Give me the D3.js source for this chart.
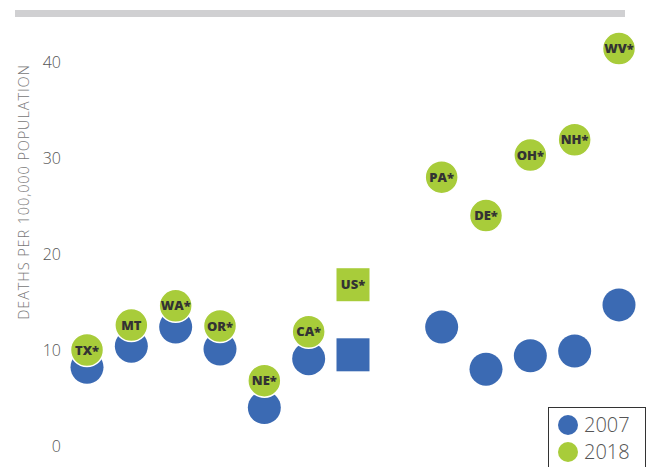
<!DOCTYPE html>
<html>
<head>
<meta charset="utf-8">
<script src="https://cdn.jsdelivr.net/npm/d3@7"></script>
<style>
  body { margin: 0; background: #fff; }
  svg { display: block; }
</style>
</head>
<body>
<div id="chart"></div>
<script>
// states in plot order, "" is the gap between US and the rest
const states = ["TX*", "MT", "WA*", "OR*", "NE*", "CA*", "US*", "", "PA*", "DE*", "OH*", "NH*", "WV*"];
const rate2007 = [8.2, 10.4, 12.4, 10.1, 4.0, 9.1, 9.5, null, 12.4, 8.0, 9.4, 9.9, 14.7];
const rate2018 = [10.0, 12.6, 14.6, 12.5, 6.8, 11.9, 16.8, null, 28.0, 24.0, 30.3, 31.9, 41.4];
const yTicks = [0, 10, 20, 30, 40];
const years = ["2007", "2018"];

const width = 648, height = 467;
const blue = "#3b6ab3", green = "#a8cc3a";
const r = 16.5;
const lightFont = "'Open Sans', Lato, sans-serif";

const svg = d3.select("#chart").append("svg")
  .attr("width", width)
  .attr("height", height);

// gray bar on top
svg.append("rect")
  .attr("x", 15).attr("y", 10)
  .attr("width", 610).attr("height", 7)
  .attr("fill", "#d0d0d2");

let x = d3.scalePoint()
  .domain(states.map((d, i) => i))
  .range([87, 619]);

let y = d3.scaleLinear()
  .domain([0, 40])
  .range([446, 62]);

let axeY = d3.axisLeft(y).tickValues(yTicks).tickSize(0).tickPadding(0);
let gy = svg.append("g")
  .attr("transform", "translate(61,0)")
  .call(axeY);
gy.select(".domain").remove();
gy.selectAll("text")
  .attr("font-family", lightFont)
  .attr("font-weight", 300)
  .attr("font-size", 16)
  .attr("fill", "#555");

svg.append("text")
  .attr("transform", "translate(29,192) rotate(-90)")
  .attr("text-anchor", "middle")
  .attr("font-family", lightFont)
  .attr("font-weight", 300)
  .attr("font-size", 14.5)
  .attr("letter-spacing", 0.9)
  .attr("fill", "#777")
  .text("DEATHS PER 100,000 POPULATION");

const rows = states.map((s, i) => ({ s, i, a: rate2007[i], b: rate2018[i] }))
  .filter(d => d.s !== "");

const isUS = d => d.s === "US*";

// 2007 marks
svg.selectAll("circle.y2007")
  .data(rows.filter(d => !isUS(d)))
  .enter().append("circle")
    .attr("class", "y2007")
    .attr("cx", d => x(d.i))
    .attr("cy", d => y(d.a))
    .attr("r", r)
    .attr("fill", blue);

svg.selectAll("rect.y2007")
  .data(rows.filter(isUS))
  .enter().append("rect")
    .attr("class", "y2007")
    .attr("x", d => x(d.i) - r)
    .attr("y", d => y(d.a) - r)
    .attr("width", 2 * r).attr("height", 2 * r)
    .attr("fill", blue);

// 2018 marks on top
svg.selectAll("circle.y2018")
  .data(rows.filter(d => !isUS(d)))
  .enter().append("circle")
    .attr("class", "y2018")
    .attr("cx", d => x(d.i))
    .attr("cy", d => y(d.b))
    .attr("r", r)
    .attr("fill", green)
    .attr("stroke", "#fff")
    .attr("stroke-width", 1.5);

svg.selectAll("rect.y2018")
  .data(rows.filter(isUS))
  .enter().append("rect")
    .attr("class", "y2018")
    .attr("x", d => x(d.i) - r)
    .attr("y", d => y(d.b) - r)
    .attr("width", 2 * r).attr("height", 2 * r)
    .attr("fill", green);

svg.selectAll("text.lab")
  .data(rows)
  .enter().append("text")
    .attr("class", "lab")
    .attr("x", d => x(d.i))
    .attr("y", d => y(d.b) + 4.5)
    .attr("text-anchor", "middle")
    .attr("font-family", "'Open Sans', sans-serif")
    .attr("font-weight", 800)
    .attr("font-size", 13)
    .attr("fill", "#333")
    .text(d => d.s);

// legend
const leg = svg.append("g").attr("transform", "translate(548,407)");
leg.append("rect")
  .attr("x", 0.5).attr("y", 0.5)
  .attr("width", 97).attr("height", 70)
  .attr("fill", "#fff")
  .attr("stroke", "#333");
leg.selectAll("circle")
  .data(years)
  .enter().append("circle")
    .attr("cx", 20)
    .attr("cy", (d, i) => 18 + i * 27)
    .attr("r", 10)
    .attr("fill", (d, i) => i === 0 ? blue : green);
leg.selectAll("text")
  .data(years)
  .enter().append("text")
    .attr("x", 36)
    .attr("y", (d, i) => 25 + i * 27)
    .attr("font-family", lightFont)
    .attr("font-weight", 300)
    .attr("font-size", 20)
    .attr("fill", "#555")
    .text(d => d);
</script>
</body>
</html>
